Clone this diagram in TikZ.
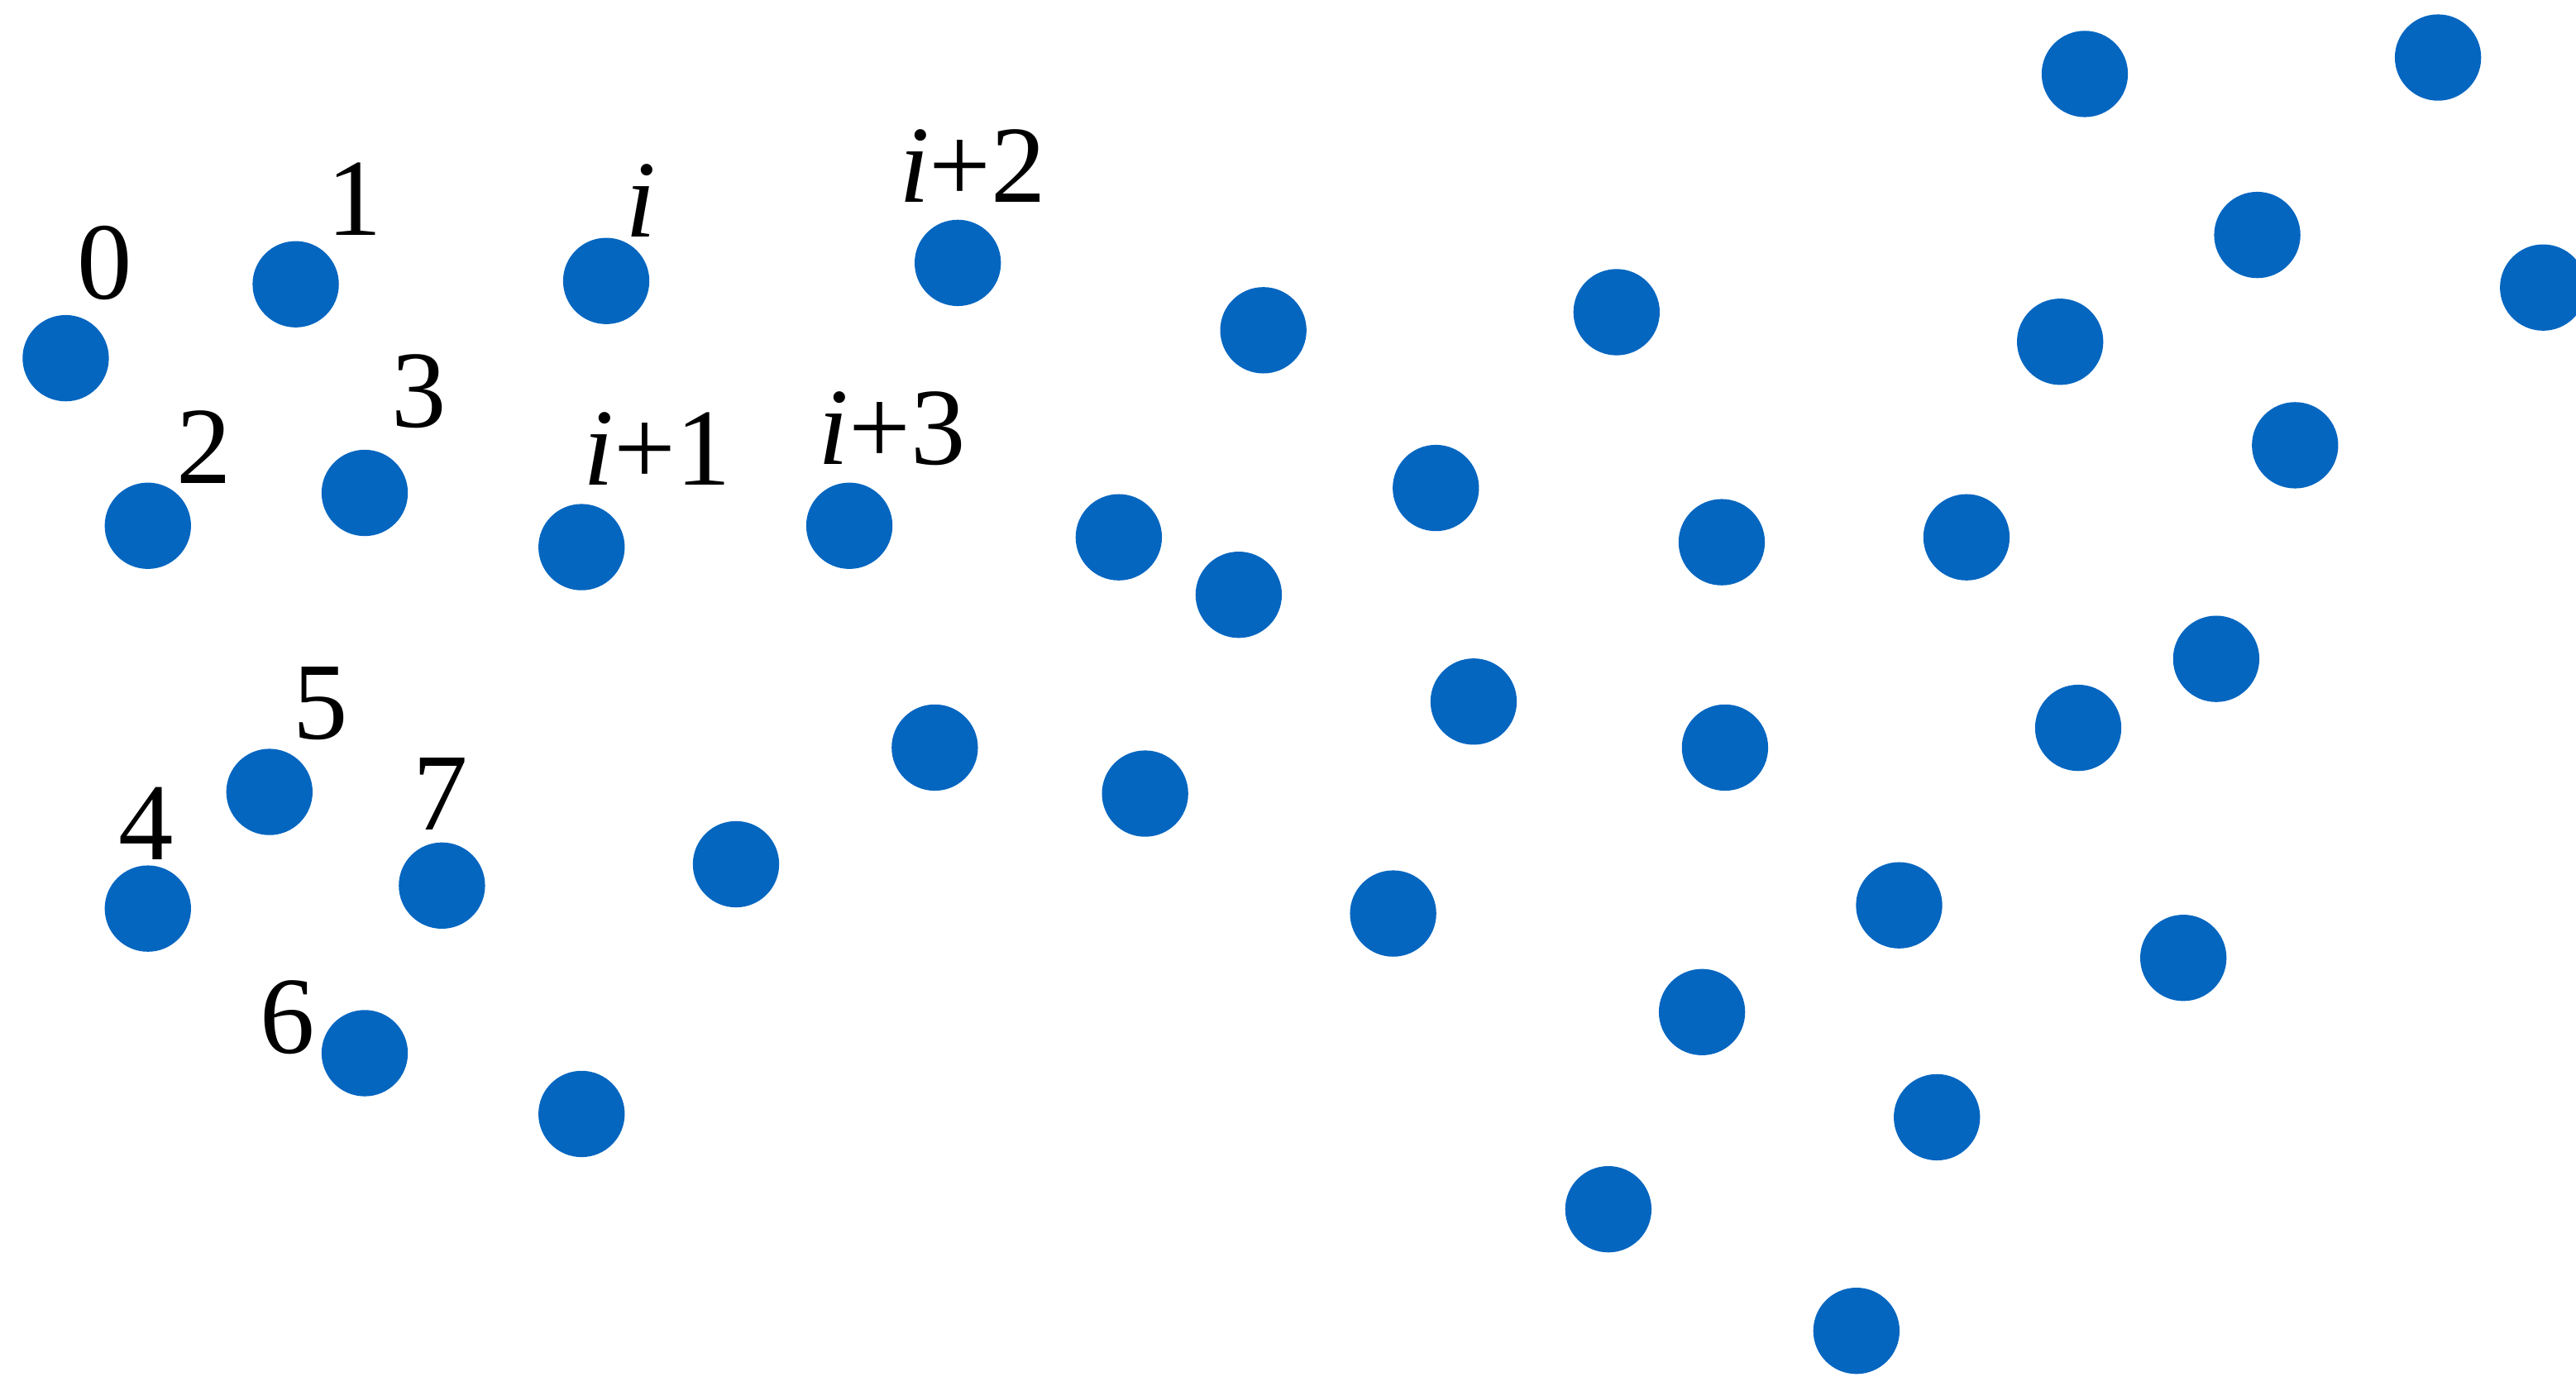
\documentclass[tikz,border=0pt]{standalone}
\usepackage{fontspec}
\setmainfont{Liberation Serif}
\usetikzlibrary{positioning}
\definecolor{ponto}{RGB}{5,102,192}
\tikzset{
    dot/.style={circle, fill=ponto, inner sep=0pt, minimum size=0.525cm},
    rotulo/.style={inner sep=0pt, font=\fontsize{19}{19}\selectfont}
}

\begin{document}
\begin{tikzpicture}[x=0.01cm, y=-0.01cm]
    \useasboundingbox (0,0) rectangle (1568,838);
    \clip (0,0) rectangle (1568,838);
    % pontos
    \foreach \n/\x/\y in {1/40/218, 2/180/173, 3/90/320, 4/222/300, 5/369/171,
        6/354/333, 7/583/160, 8/517/320, 9/90/553, 10/164/482, 11/222/641,
        12/269/539, 13/354/678, 14/448/526, 15/569/455, 16/697/483, 17/681/327,
        18/754/362, 19/769/201, 20/874/297, 21/897/427, 22/848/556, 23/984/190,
        24/1048/330, 25/1050/455, 26/1036/616, 27/979/736, 28/1130/810,
        29/1156/551, 30/1179/680, 31/1197/327, 32/1254/208, 33/1269/45,
        34/1265/443, 35/1349/401, 36/1329/583, 37/1374/143, 38/1397/271,
        39/1484/35, 40/1548/175} {
        \node[dot] (d\n) at (\x,\y) {};
    }
    % rotulos
    \node[rotulo] (l0) at (64,160) {0};
    \node[rotulo] (l1) at (216,121) {1};
    \node[rotulo] (l2) at (124,272) {2};
    \node[rotulo] (l3) at (255,238) {3};
    \node[rotulo] (li) at (390,122) {\textit{i}};
    \node[rotulo] (li1) at (400,273) {\textit{i}+1};
    \node[rotulo] (li2) at (592,101) {\textit{i}+2};
    \node[rotulo] (li3) at (543,261) {\textit{i}+3};
    \node[rotulo] (l4) at (89,501) {4};
    \node[rotulo] (l5) at (195,428) {5};
    \node[rotulo] (l6) at (175,619) {6};
    \node[rotulo] (l7) at (268,483) {7};
\end{tikzpicture}
\end{document}
